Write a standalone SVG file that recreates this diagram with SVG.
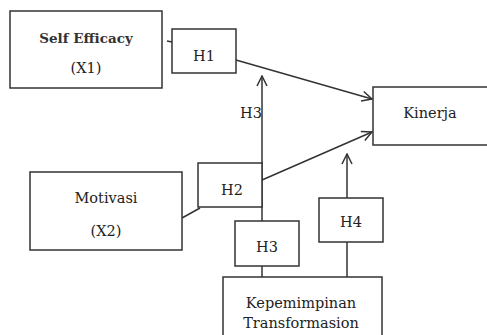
<svg xmlns="http://www.w3.org/2000/svg" width="487" height="335" viewBox="0 0 487 335">
<defs>
<style>
.box{fill:#fff;stroke:#333;stroke-width:1.5}
.ln{fill:none;stroke:#333;stroke-width:1.5}
text{font-family:"DejaVu Serif","Liberation Serif",serif;font-size:14.5px;fill:#222;text-anchor:middle}
</style>
<marker id="arr" viewBox="0 0 12 12" refX="11" refY="6" markerWidth="12" markerHeight="12" markerUnits="userSpaceOnUse" orient="auto">
<path d="M1,1 L11,6 L1,11" fill="none" stroke="#333" stroke-width="1.5"/>
</marker>
</defs>
<g id="connectors">
<line class="ln" x1="167" y1="41" x2="172" y2="42"/>
<line class="ln" x1="236" y1="60" x2="372" y2="99" marker-end="url(#arr)"/>
<line class="ln" x1="182" y1="218" x2="200" y2="208"/>
<line class="ln" x1="262" y1="180" x2="372" y2="132" marker-end="url(#arr)"/>
<line class="ln" x1="262" y1="277" x2="262" y2="76" marker-end="url(#arr)"/>
<line class="ln" x1="347" y1="277" x2="347" y2="154" marker-end="url(#arr)"/>
</g>
<g id="self-efficacy">
<rect class="box" x="10" y="11" width="152" height="77"/>
<text x="86" y="43" font-weight="bold" style="font-size:13.5px;fill:#333">Self Efficacy</text>
<text x="86" y="73">(X1)</text>
</g>
<g id="h1">
<rect class="box" x="172" y="29" width="64" height="44"/>
<text x="204" y="61">H1</text>
</g>
<g id="h3-label">
<text x="251" y="118">H3</text>
</g>
<g id="kinerja">
<rect class="box" x="373" y="87" width="120" height="58"/>
<text x="430" y="118">Kinerja</text>
</g>
<g id="motivasi">
<rect class="box" x="30" y="172" width="152" height="78"/>
<text x="106" y="203">Motivasi</text>
<text x="106" y="236">(X2)</text>
</g>
<g id="h2">
<rect class="box" x="198" y="163" width="64" height="44"/>
<text x="232" y="195">H2</text>
</g>
<g id="h3">
<rect class="box" x="235" y="221" width="64" height="45"/>
<text x="267" y="252">H3</text>
</g>
<g id="h4">
<rect class="box" x="319" y="198" width="64" height="44"/>
<text x="351" y="227">H4</text>
</g>
<g id="kepemimpinan">
<rect class="box" x="223" y="277" width="159" height="70"/>
<text x="301" y="308">Kepemimpinan</text>
<text x="301" y="328">Transformasion</text>
</g>
</svg>
